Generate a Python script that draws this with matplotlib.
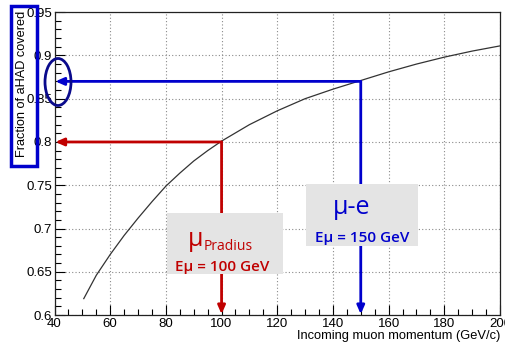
import matplotlib
matplotlib.use('Agg')
import matplotlib.pyplot as plt
from matplotlib.patches import Ellipse, Rectangle
from matplotlib.ticker import MultipleLocator

# curve
momentum = [50.5, 55, 60, 65, 70, 75, 80, 85, 90, 95, 100, 110, 120, 130, 140, 150, 160, 170, 180, 190, 200]
fraction = [0.619, 0.646, 0.670, 0.692, 0.712, 0.731, 0.749, 0.764, 0.778, 0.790, 0.801,
            0.820, 0.836, 0.850, 0.861, 0.871, 0.881, 0.890, 0.898, 0.905, 0.911]

# the two working points
pradius_e, pradius_frac = 100, 0.80
mue_e, mue_frac = 150, 0.87

red = '#C00000'
blue = '#0000CC'
navy = '#0A0A8C'

plt.rcParams['font.family'] = ['Liberation Sans', 'DejaVu Sans']

fig = plt.figure(figsize=(5.05, 3.47), dpi=100)
ax = fig.add_axes([0.108, 0.092, 0.882, 0.873])

ax.plot(momentum, fraction, color='#333333', lw=0.9, zorder=3)

ax.set_xlim(40, 200)
ax.set_ylim(0.6, 0.95)
ax.xaxis.set_major_locator(MultipleLocator(20))
ax.xaxis.set_minor_locator(MultipleLocator(5))
ax.yaxis.set_minor_locator(MultipleLocator(0.01))
ax.set_yticks([0.6, 0.65, 0.7, 0.75, 0.8, 0.85, 0.9, 0.95])
ax.set_yticklabels(['0.6', '0.65', '0.7', '0.75', '0.8', '0.85', '0.9', '0.95'])
ax.tick_params(which='major', direction='in', length=7, width=0.8, labelsize=9.5, pad=2)
ax.tick_params(which='minor', direction='in', length=4, width=0.8)
ax.grid(True, which='major', color='#8a8a8a', linestyle=(0, (1, 2)), lw=0.8)
for s in ax.spines.values():
    s.set_color('#222222')
    s.set_linewidth(0.9)

ax.set_xlabel('Incoming muon momentum (GeV/c)', fontsize=9.3, loc='right', labelpad=0)
ax.set_ylabel('Fraction of aHAD covered', fontsize=9.2, loc='top')
ax.yaxis.set_label_coords(-0.0595, 1.005)

# arrows from the curve to the axes
arrow = dict(arrowstyle='-|>,head_length=0.5,head_width=0.22', lw=2, shrinkA=0, shrinkB=0)
for e, f, c in [(pradius_e, pradius_frac, red), (mue_e, mue_frac, blue)]:
    ax.annotate('', xy=(40.3, f), xytext=(e, f), arrowprops=dict(arrow, color=c), zorder=4)
    ax.annotate('', xy=(e, 0.601), xytext=(e, f), arrowprops=dict(arrow, color=c), zorder=4)

# grey label boxes (pixel positions converted to figure fractions)
W, H = 505, 347
def fx(px):
    return px / W
def fy(py):
    return 1 - py / H

fig.patches.append(Rectangle((fx(167), fy(274)), (283 - 167) / W, (274 - 213) / H,
                             transform=fig.transFigure, facecolor='#E4E4E4', edgecolor='none', zorder=5))
fig.patches.append(Rectangle((fx(306), fy(246)), (418 - 306) / W, (246 - 184) / H,
                             transform=fig.transFigure, facecolor='#E4E4E4', edgecolor='none', zorder=5))

tfont = ['Open Sans', 'DejaVu Sans']
fig.text(fx(196), fy(240), 'μ', color=red, fontsize=18, ha='center', va='center', family=tfont, zorder=6)
fig.text(fx(204), fy(246), 'Pradius', color=red, fontsize=10, ha='left', va='center', family=tfont, zorder=6)
fig.text(fx(222), fy(267), 'Eμ = 100 GeV', color=red, fontsize=11, ha='center', va='center',
         family=tfont, fontweight='semibold', zorder=6)
fig.text(fx(352), fy(207), 'μ-e', color=blue, fontsize=18, ha='center', va='center', family=tfont, zorder=6)
fig.text(fx(362), fy(238), 'Eμ = 150 GeV', color=blue, fontsize=11, ha='center', va='center',
         family=tfont, fontweight='semibold', zorder=6)

# highlight marks
fig.patches.append(Ellipse((fx(58), fy(82)), 26 / W, 47 / H, transform=fig.transFigure,
                           fill=False, edgecolor=navy, lw=2, zorder=7))
fig.patches.append(Rectangle((fx(11), fy(166)), 26 / W, 160 / H, transform=fig.transFigure,
                             fill=False, edgecolor=blue, lw=2.5, zorder=7))

fig.savefig('out.png', dpi=100)
